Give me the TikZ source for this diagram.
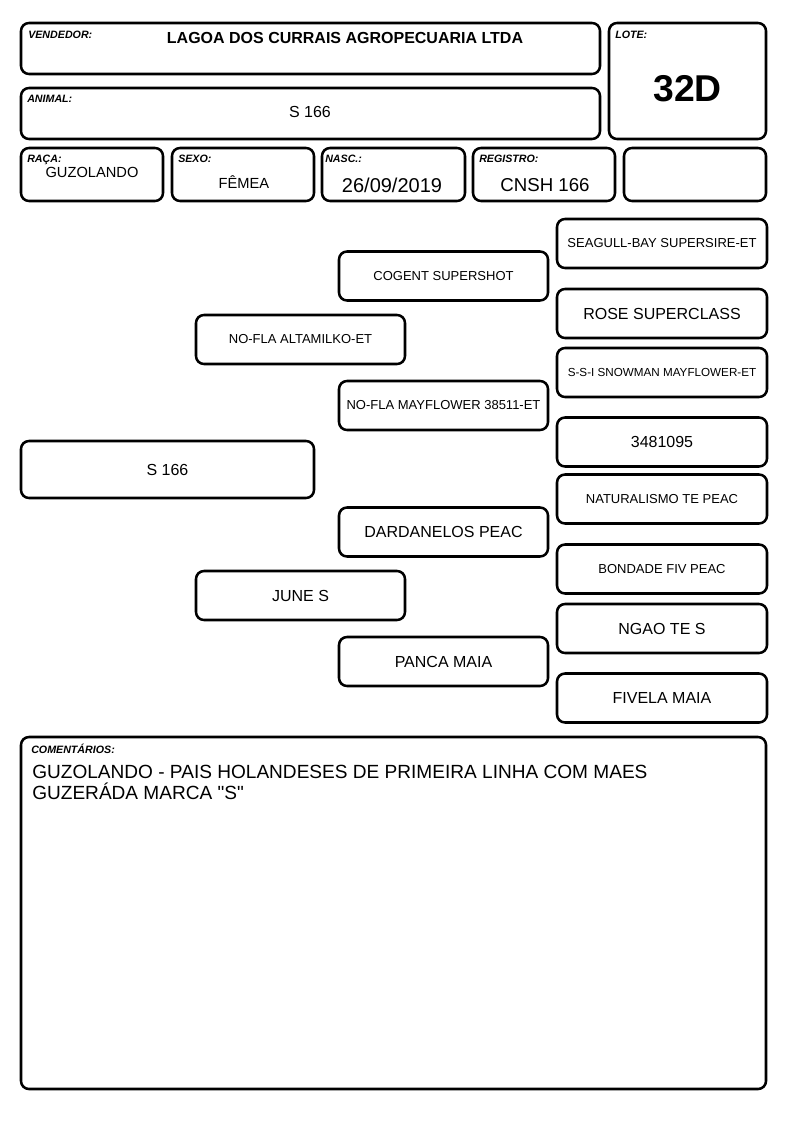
\documentclass[tikz,border=0pt]{standalone}
\usepackage{fontspec}
\setmainfont{Liberation Sans}
\newfontfamily\obsfont[Ligatures=TeXOff]{Liberation Sans}
\usepackage{tikz}
\usetikzlibrary{positioning}

\tikzset{
  box/.style={draw, line width=1.9pt, rounded corners=6pt, inner sep=0pt},
  tag/.style={anchor=base west, inner sep=0pt, font=\fontsize{8}{9}\selectfont\bfseries\itshape},
  val/.style={anchor=base, inner sep=0pt},
  cell/.style={box, minimum width=106.5pt, minimum height=39.75pt},
  ped/.style={box, minimum width=156.75pt, minimum height=36.75pt, font=\fontsize{12}{14}\selectfont},
  longname/.style={font=\fontsize{9.75}{11}\selectfont},
}

\begin{document}
\begin{tikzpicture}[x=0.75pt, y=-0.75pt]
	\useasboundingbox (0,0) rectangle (794,1123);
	% cabecalho
	\node[box, minimum width=434.25pt, minimum height=38.25pt] (vendedor) at (310.5,48.5) {};
	\node[box, minimum width=117.75pt, minimum height=87pt] (lote) at (687.5,81) {};
	\node[box, minimum width=434.25pt, minimum height=38.25pt] (animal) at (310.5,113.5) {};
	\node[cell] (raca) at (92,174.5) {};
	\node[cell] (sexo) at (243,174.5) {};
	\node[cell, minimum width=107.25pt] (nasc) at (393.5,174.5) {};
	\node[cell] (registro) at (544,174.5) {};
	\node[cell] (extra) at (695,174.5) {};
	\node[tag] (vendedortag) at (28,39) {VENDEDOR:};
	\node[tag] (lotetag) at (615,39) {LOTE:};
	\node[tag] (animaltag) at (27,103) {ANIMAL:};
	\node[tag] (racatag) at (27,163) {RAÇA:};
	\node[tag] (sexotag) at (178,163) {SEXO:};
	\node[tag] (nasctag) at (325,163) {NASC.:};
	\node[tag] (registrotag) at (479,163) {REGISTRO:};
	\node[val, font=\fontsize{12}{14}\selectfont\bfseries] (vendedorval) at (345,44) {LAGOA DOS CURRAIS AGROPECUARIA LTDA};
	\node[val, font=\fontsize{28}{32}\selectfont\bfseries] (loteval) at (687.5,102) {32D};
	\node[val, font=\fontsize{12}{14}\selectfont] (animalval) at (310,118) {S 166};
	\node[val, font=\fontsize{11}{13}\selectfont] (racaval) at (92,178) {GUZOLANDO};
	\node[val, font=\fontsize{11}{13}\selectfont] (sexoval) at (244,189) {FÊMEA};
	\node[val, font=\fontsize{15}{17}\selectfont] (nascval) at (392,193) {26/09/2019};
	\node[val, font=\fontsize{14}{16}\selectfont] (registroval) at (545,192) {CNSH 166};
	% genealogia
	\node[ped, minimum width=219.75pt, minimum height=42.75pt] (s) at (167.5,469.5) {S 166};
	\node[ped, longname] (p) at (300.5,339.5) {NO-FLA ALTAMILKO-ET};
	\node[ped] (m) at (300.5,595.5) {JUNE S};
	\node[ped, longname] (pp) at (443.5,276) {COGENT SUPERSHOT};
	\node[ped, longname] (pm) at (443.5,405.5) {NO-FLA MAYFLOWER 38511-ET};
	\node[ped] (mp) at (443.5,532) {DARDANELOS PEAC};
	\node[ped] (mm) at (443.5,661.5) {PANCA MAIA};
	\node[ped, longname, minimum width=157.5pt] (ppp) at (662,243.5) {SEAGULL-BAY SUPERSIRE-ET};
	\node[ped, minimum width=157.5pt] (ppm) at (662,313.5) {ROSE SUPERCLASS};
	\node[ped, minimum width=157.5pt, font=\fontsize{8.75}{10}\selectfont] (pmp) at (662,372.5) {S-S-I SNOWMAN MAYFLOWER-ET};
	\node[ped, minimum width=157.5pt] (pmm) at (662,442) {3481095};
	\node[ped, longname, minimum width=157.5pt] (mpp) at (662,499) {NATURALISMO TE PEAC};
	\node[ped, longname, minimum width=157.5pt] (mpm) at (662,569) {BONDADE FIV PEAC};
	\node[ped, minimum width=157.5pt] (mmp) at (662,628.5) {NGAO TE S};
	\node[ped, minimum width=157.5pt] (mmm) at (662,698) {FIVELA MAIA};
	% comentarios
	\node[box, minimum width=558.75pt, minimum height=264pt] (obs) at (393.5,913) {};
	\node[tag] (obstag) at (31,753) {COMENTÁRIOS:};
	\node[anchor=base west, inner sep=0pt, font=\obsfont\fontsize{14.3}{16}\selectfont] (obs1) at (32,778) {GUZOLANDO - PAIS HOLANDESES DE PRIMEIRA LINHA COM MAES};
	\node[anchor=base west, inner sep=0pt, font=\obsfont\fontsize{14.3}{16}\selectfont] (obs2) at (32,799) {GUZERÁDA MARCA "S"};
\end{tikzpicture}
\end{document}
